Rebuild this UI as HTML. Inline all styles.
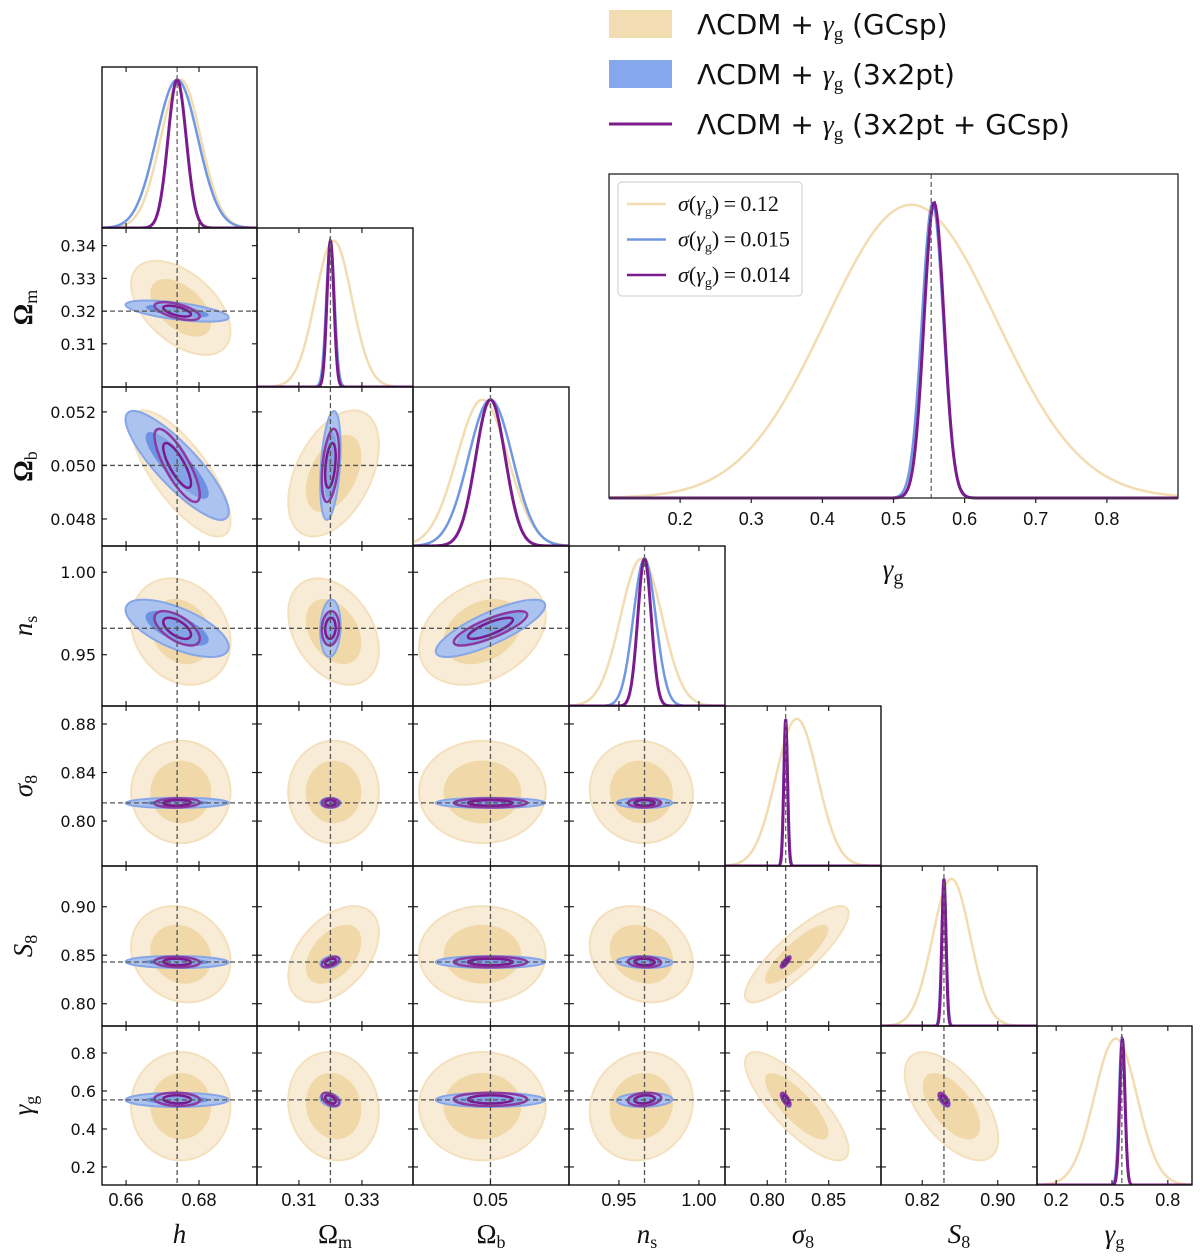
<!DOCTYPE html>
<html><head><meta charset="utf-8">
<style>
html,body{margin:0;padding:0;background:#fff;}
svg{display:block;}
.tk{font-family:"Liberation Sans","DejaVu Sans",sans-serif;font-size:18px;fill:#111;}
.ytk{font-family:"DejaVu Sans","Liberation Sans",sans-serif;font-size:16px;fill:#111;}
.lab{font-family:"Liberation Serif","DejaVu Serif",serif;font-size:27px;fill:#111;}
.leg{font-family:"DejaVu Sans","Liberation Sans",sans-serif;font-size:28px;fill:#111;}
.ileg{font-family:"Liberation Serif","DejaVu Serif",serif;font-size:22px;fill:#111;}
</style></head>
<body>
<svg id="chart" width="1200" height="1258" viewBox="0 0 1200 1258" xmlns="http://www.w3.org/2000/svg"></svg>
<script>
// ---- data ----
const paramNames = ["h","Om","Ob","ns","s8","S8","gg"];
const fiducials = [0.674, 0.320, 0.050, 0.966, 0.815, 0.843, 0.553];
const meanGC   = [0.675, 0.321, 0.0497, 0.964, 0.824, 0.851, 0.52];
const sigmaGC  = [0.0055, 0.0058, 0.00095, 0.013, 0.017, 0.020, 0.115];
const meanXP   = [0.674, 0.320, 0.050, 0.966, 0.815, 0.843, 0.553];
const sigmaXP  = [0.0057, 0.0013, 0.00082, 0.007, 0.0017, 0.0025, 0.015];
const meanComb = [0.674, 0.320, 0.050, 0.966, 0.815, 0.843, 0.556];
const sigmaComb= [0.0025, 0.0011, 0.00055, 0.0042, 0.0015, 0.0022, 0.014];
// correlation per pair, order: (0,1),(0,2),(1,2),(0,3),(1,3),(2,3),(0,4)...(5,6)
const corrGC   = [-0.5,-0.75,0.45,-0.2,-0.35,0.3,0,0,0,-0.05,-0.15,0.45,0,-0.2,0.85,0,-0.1,0,0.1,-0.8,-0.6];
const corrXP   = [-0.6,-0.85,0.35,-0.65,0.1,0.8,0.05,0,0,0,-0.05,0.3,0,-0.1,0.8,0,-0.3,0,0.1,-0.7,-0.6];
const corrComb = [-0.6,-0.8,0.4,-0.6,0.1,0.8,0.1,0,0,0,-0.1,0.5,0,-0.1,0.85,-0.1,-0.5,0,0.2,-0.7,-0.7];
// inset data
const insetMeans = [0.525, 0.555, 0.557];
const insetSigmas = [0.12, 0.015, 0.014];
const insetLegend = ["0.12","0.015","0.014"];
// ticks
const xTicks = [[0.66,0.68],[0.31,0.33],[0.05],[0.95,1.00],[0.80,0.85],[0.82,0.90],[0.2,0.5,0.8]];
const xTickLabels = [["0.66","0.68"],["0.31","0.33"],["0.05"],["0.95","1.00"],["0.80","0.85"],["0.82","0.90"],["0.2","0.5","0.8"]];
const yTicks = [[],[0.34,0.33,0.32,0.31],[0.052,0.050,0.048],[1.00,0.95],[0.88,0.84,0.80],[0.90,0.85,0.80],[0.8,0.6,0.4,0.2]];
const yTickLabels = [[],["0.34","0.33","0.32","0.31"],["0.052","0.050","0.048"],["1.00","0.95"],["0.88","0.84","0.80"],["0.90","0.85","0.80"],["0.8","0.6","0.4","0.2"]];
const insetTicks = [0.2,0.3,0.4,0.5,0.6,0.7,0.8];
const insetTickLabels = ["0.2","0.3","0.4","0.5","0.6","0.7","0.8"];

// ---- layout (axis config) ----
const colX = [102,257,413,569,725,881,1037,1192];
const rowY = [67,228,387,546,706,866,1026,1185];
const xRange = [[0.6534,0.6959],[0.2967,0.3462],[0.04712,0.05292],[0.9188,1.0163],[0.7656,0.8926],[0.7763,0.9416],[0.097,0.93]];
const yRange = [[0,1],[0.2968,0.3454],[0.04699,0.05293],[0.9189,1.0159],[0.763,0.8948],[0.777,0.942],[0.105,0.942]];
const NS="http://www.w3.org/2000/svg";
const svg=document.getElementById('chart');
function el(t,a,p){const e=document.createElementNS(NS,t);for(const k in a)e.setAttribute(k,a[k]);(p||svg).appendChild(e);return e;}
function xs(i,v){const r=xRange[i];return colX[i]+(v-r[0])/(r[1]-r[0])*(colX[i+1]-colX[i]);}
function ys(j,v){const r=yRange[j];return rowY[j+1]-(v-r[0])/(r[1]-r[0])*(rowY[j+1]-rowY[j]);}
function kx(i){return (colX[i+1]-colX[i])/(xRange[i][1]-xRange[i][0]);}
function ky(j){return (rowY[j+1]-rowY[j])/(yRange[j][1]-yRange[j][0]);}
function pairIndex(i,j){return j*(j-1)/2+i;}

const defs=el('defs',{});
function ellipse(g,cx,cy,sx,sy,rho,k,attrs,name){
  const a=sx*sx,c=sy*sy,b=rho*sx*sy;
  const tr=(a+c)/2,df=Math.sqrt(((a-c)/2)**2+b*b);
  const l1=tr+df,l2=Math.max(tr-df,1e-6);
  const th=0.5*Math.atan2(2*b,a-c)*180/Math.PI;
  const e=el('ellipse',Object.assign({cx:cx,cy:cy,rx:k*Math.sqrt(l1),ry:k*Math.sqrt(l2),transform:`rotate(${th} ${cx} ${cy})`},attrs),g);
  
  
}
const K1=1.52,K2=2.48;

for(let j=0;j<7;j++){
  for(let i=0;i<=j;i++){
    const x0=colX[i],x1=colX[i+1],y0=rowY[j],y1=rowY[j+1];
    const cp=el('clipPath',{id:`c${i}_${j}`},defs);
    el('rect',{x:x0,y:y0,width:x1-x0,height:y1-y0},cp);
    const g=el('g',{'clip-path':`url(#c${i}_${j})`});
    
    
    if(i===j){
      const H=(y1-y0)*0.92;
      const sets=[[meanGC,sigmaGC,'#f2dcb2',2.5,'pdf-gcsp'],[meanXP,sigmaXP,'#7097e2',2.5,'pdf-3x2pt'],[meanComb,sigmaComb,'#7b1c8e',3,'pdf-combined']];
      for(const s of sets){
        let d='';
        for(let n=0;n<=300;n++){
          const v=xRange[i][0]+(xRange[i][1]-xRange[i][0])*n/300;
          const p=Math.exp(-0.5*((v-s[0][i])/s[1][i])**2);
          d+=(n?'L':'M')+xs(i,v).toFixed(2)+','+(y1-p*H).toFixed(2);
        }
        const pth=el('path',{d:d,fill:'none',stroke:s[2],'stroke-width':s[3]},g);
        
        
      }
      el('line',{x1:xs(i,fiducials[i]),x2:xs(i,fiducials[i]),y1:y0,y2:y1,stroke:'#666','stroke-width':1.3,'stroke-dasharray':'5,3'},g);
    } else {
      const pi=pairIndex(i,j);
      let cx=xs(i,meanGC[i]),cy=ys(j,meanGC[j]);
      ellipse(g,cx,cy,sigmaGC[i]*kx(i),sigmaGC[j]*ky(j),-corrGC[pi],K2,{fill:'#f9ecd6',stroke:'#f4e0bd','stroke-width':2},'gcsp-2sigma');
      ellipse(g,cx,cy,sigmaGC[i]*kx(i),sigmaGC[j]*ky(j),-corrGC[pi],K1,{fill:'#f0d8a8'},'gcsp-1sigma');
      cx=xs(i,meanXP[i]);cy=ys(j,meanXP[j]);
      ellipse(g,cx,cy,sigmaXP[i]*kx(i),sigmaXP[j]*ky(j),-corrXP[pi],K2,{fill:'#adc3ef',stroke:'#86a6e8','stroke-width':2},'3x2pt-2sigma');
      ellipse(g,cx,cy,sigmaXP[i]*kx(i),sigmaXP[j]*ky(j),-corrXP[pi],K1,{fill:'#6b92e3'},'3x2pt-1sigma');
      cx=xs(i,meanComb[i]);cy=ys(j,meanComb[j]);
      ellipse(g,cx,cy,sigmaComb[i]*kx(i),sigmaComb[j]*ky(j),-corrComb[pi],K2,{fill:'#9fb6ea','fill-opacity':0.5,stroke:'#8a3aa0','stroke-width':2.5},'combined-2sigma');
      ellipse(g,cx,cy,sigmaComb[i]*kx(i),sigmaComb[j]*ky(j),-corrComb[pi],K1,{fill:'none',stroke:'#7a1a8e','stroke-width':2.5},'combined-1sigma');
      el('line',{x1:xs(i,fiducials[i]),x2:xs(i,fiducials[i]),y1:y0,y2:y1,stroke:'#555','stroke-width':1.3,'stroke-dasharray':'5,3'},g);
      el('line',{x1:x0,x2:x1,y1:ys(j,fiducials[j]),y2:ys(j,fiducials[j]),stroke:'#555','stroke-width':1.3,'stroke-dasharray':'5,3'},g);
    }
    for(const t of xTicks[i]){const X=xs(i,t);el('line',{x1:X,x2:X,y1:y1,y2:y1-5,stroke:'#222','stroke-width':1.2});el('line',{x1:X,x2:X,y1:y0,y2:y0+5,stroke:'#222','stroke-width':1.2});}
    if(i!==j){for(const t of yTicks[j]){const Y=ys(j,t);el('line',{x1:x0,x2:x0+5,y1:Y,y2:Y,stroke:'#222','stroke-width':1.2});el('line',{x1:x1,x2:x1-5,y1:Y,y2:Y,stroke:'#222','stroke-width':1.2});}}
    const fr=el('rect',{x:x0,y:y0,width:x1-x0,height:y1-y0,fill:'none',stroke:'#111','stroke-width':1.4});
    
    
  }
}
for(let i=0;i<7;i++){
  xTicks[i].forEach((t,n)=>{const tx=el('text',{x:xs(i,t),y:1206,'text-anchor':'middle',class:'tk'});tx.textContent=xTickLabels[i][n];
    });
}
for(let j=1;j<7;j++){
  yTicks[j].forEach((t,n)=>{const tx=el('text',{x:96,y:ys(j,t)+6,'text-anchor':'end',class:'ytk'});tx.textContent=yTickLabels[j][n];
    });
}
const labHTML=[['h',''],['Ω','m'],['Ω','b'],['n','s'],['σ','8'],['S','8'],['γ','g']];
const italic=[true,false,false,true,true,true,true];
for(let i=0;i<7;i++){
  const cx=(colX[i]+colX[i+1])/2;
  const t=el('text',{x:cx,y:1243,'text-anchor':'middle',class:'lab'});
  
  const a=el('tspan',{'font-style':italic[i]?'italic':'normal'},t);a.textContent=labHTML[i][0];
  if(labHTML[i][1]){const b=el('tspan',{'font-size':'18px',dy:5},t);b.textContent=labHTML[i][1];}
}
for(let j=1;j<7;j++){
  const cy=(rowY[j]+rowY[j+1])/2;
  const t=el('text',{x:0,y:0,'text-anchor':'middle',class:'lab',transform:`translate(32 ${cy}) rotate(-90)`});
  
  const a=el('tspan',{'font-style':italic[j]?'italic':'normal','font-weight':j<3?'bold':'normal'},t);a.textContent=labHTML[j][0];
  const b=el('tspan',{'font-size':'18px',dy:5},t);b.textContent=labHTML[j][1];
}
const legItems=[['GCsp','#f2dcb2','patch'],['3x2pt','#85a8ec','patch'],['3x2pt + GCsp','#7b1c8e','line']];
legItems.forEach((it,n)=>{
  const y=24+n*50;
  const g=el('g',{});
  
  if(it[2]==='patch')el('rect',{x:609,y:y-14,width:63,height:28,fill:it[1]},g);
  else el('line',{x1:609,x2:672,y1:y,y2:y,stroke:it[1],'stroke-width':3},g);
  const t=el('text',{x:697,y:y+10,class:'leg'},g);
  const s1=el('tspan',{},t);s1.textContent='ΛCDM + ';
  const s2=el('tspan',{'font-family':'Liberation Serif, serif','font-style':'italic'},t);s2.textContent='γ';
  const s3=el('tspan',{'font-size':'19px',dy:6,'font-family':'Liberation Serif, serif'},t);s3.textContent='g';
  const s4=el('tspan',{dy:-6},t);s4.textContent=' ('+it[0]+')';
});
const IX0=609,IX1=1178,IY0=174,IY1=498,IR=[0.1,0.9];
function ix(v){return IX0+(v-IR[0])/(IR[1]-IR[0])*(IX1-IX0);}
const ig=el('g',{});

el('rect',{x:IX0,y:IY0,width:IX1-IX0,height:IY1-IY0,fill:'#fff'},ig);
const icol=['#f2dcb2','#7097e2','#7b1c8e'];const ipk=[0.905,0.91,0.912];const iw=[2.5,2.5,3];
for(let s=0;s<3;s++){
  let d='';
  for(let n=0;n<=500;n++){const v=IR[0]+(IR[1]-IR[0])*n/500;const p=Math.exp(-0.5*((v-insetMeans[s])/insetSigmas[s])**2);
    d+=(n?'L':'M')+ix(v).toFixed(2)+','+(IY1-p*ipk[s]*(IY1-IY0)).toFixed(2);}
  const pth=el('path',{d:d,fill:'none',stroke:icol[s],'stroke-width':iw[s]},ig);
  
}
el('line',{x1:ix(fiducials[6]),x2:ix(fiducials[6]),y1:IY0,y2:IY1,stroke:'#666','stroke-width':1.3,'stroke-dasharray':'5,3'},ig);
insetTicks.forEach((t,n)=>{el('line',{x1:ix(t),x2:ix(t),y1:IY1,y2:IY1+5,stroke:'#222','stroke-width':1.2},ig);
  const tx=el('text',{x:ix(t),y:IY1+27,'text-anchor':'middle',class:'tk','font-size':'20px'},ig);tx.textContent=insetTickLabels[n];
  });
el('rect',{x:IX0,y:IY0,width:IX1-IX0,height:IY1-IY0,fill:'none',stroke:'#333','stroke-width':1.4},ig);
const lb=el('rect',{x:618,y:182,width:184,height:114,rx:4,fill:'#fff',stroke:'#ccc','stroke-width':1},ig);

for(let s=0;s<3;s++){
  const y=204+s*35.5;
  el('line',{x1:627,x2:666,y1:y,y2:y,stroke:icol[s],'stroke-width':2.5},ig);
  const t=el('text',{x:678,y:y+7,class:'ileg'},ig);
  
  const a=el('tspan',{'font-style':'italic'},t);a.textContent='σ';
  const b=el('tspan',{},t);b.textContent='(';
  const c=el('tspan',{'font-style':'italic'},t);c.textContent='γ';
  const d=el('tspan',{'font-size':'14px',dy:5},t);d.textContent='g';
  const e=el('tspan',{dy:-5},t);e.textContent=')\u2009=\u2009'+insetLegend[s];
}
const it=el('text',{x:893,y:578,'text-anchor':'middle',class:'lab','font-size':'30px'});

const ia=el('tspan',{'font-style':'italic'},it);ia.textContent='γ';
const ib=el('tspan',{'font-size':'20px',dy:6},it);ib.textContent='g';
</script>
</body></html>
